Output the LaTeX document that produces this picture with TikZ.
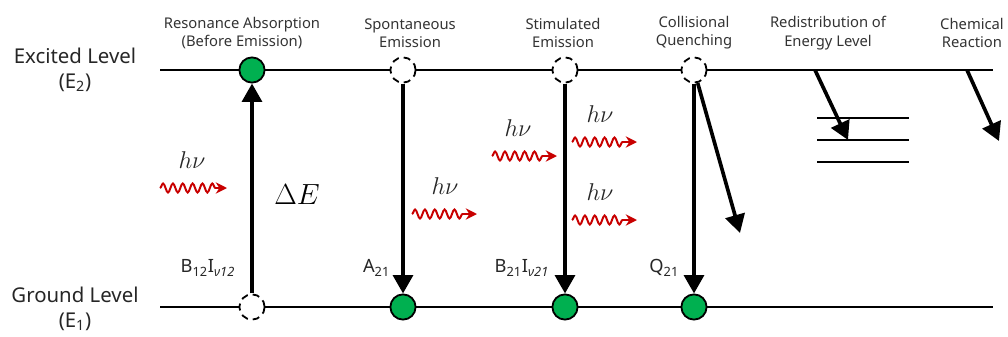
\documentclass[tikz,border=0pt]{standalone}
\usepackage{fontspec}
\setmainfont{Noto Sans}
\usepackage{tikz}
\usetikzlibrary{arrows.meta, positioning, decorations.pathmorphing}
\definecolor{dotgreen}{RGB}{0,176,80}
\definecolor{photonred}{RGB}{200,0,0}

\begin{document}
\begin{tikzpicture}[
  x=0.025cm, y=-0.025cm,
  level/.style={line width=1.5pt},
  lvllabel/.style={align=center, font=\fontsize{14.5}{17.5}\selectfont, text=black!85},
  title/.style={align=center, font=\fontsize{10.5}{13}\selectfont, text=black!80},
  full/.style={circle, draw, line width=1.3pt, fill=dotgreen, minimum size=0.63cm, inner sep=0pt},
  empty/.style={circle, draw, dash pattern=on 5pt off 3.5pt, line width=1.3pt, fill=white, minimum size=0.63cm, inner sep=0pt},
  trans/.style={-{Triangle[width=14pt,length=13pt]}, line width=2.6pt},
  photon/.style={photonred, line width=1.4pt, -{Stealth[length=8pt,width=8pt]},
    decorate, decoration={snake, amplitude=3.2pt, segment length=7pt, post length=7pt}},
  hnu/.style={font=\fontsize{17}{19}\selectfont, text=black!85},
  coef/.style={font=\fontsize{13}{15}\selectfont, text=black!85}
]
\useasboundingbox (0,0) rectangle (1008,336);

% energy levels
\coordinate (upL) at (160,70);
\coordinate (upR) at (993,70);
\coordinate (loL) at (160,307);
\coordinate (loR) at (993,307);
\draw[level] (upL) -- (upR);
\draw[level] (loL) -- (loR);

\node[lvllabel] (excited) at (75,70) {Excited Level\\(E\textsubscript{2})};
\node[lvllabel] (ground) at (75,309) {Ground Level\\(E\textsubscript{1})};

% process titles
\node[title] (tabs) at (242,33) {Resonance Absorption\\(Before Emission)};
\node[title] (tspon) at (410,33) {Spontaneous\\Emission};
\node[title] (tstim) at (563,33) {Stimulated\\Emission};
\node[title] (tquen) at (694,33) {Collisional\\Quenching};
\node[title] (tredi) at (828,33) {Redistribution of\\Energy Level};
\node[title] (tchem) at (972,33) {Chemical\\Reaction};

% states
\node[full] (e1) at (252,70) {};
\node[empty] (g1) at (252,307) {};
\node[empty] (e2) at (403,70) {};
\node[full] (g2) at (403,307) {};
\node[empty] (e3) at (565,70) {};
\node[full] (g3) at (565,307) {};
\node[empty] (e4) at (694,70) {};
\node[full] (g4) at (694,307) {};

% transitions
\draw[trans] (g1) -- (e1);
\draw[trans] (e2) -- (g2);
\draw[trans] (e3) -- (g3);
\draw[trans] (e4) -- (g4);
\coordinate (qend) at (740,233);
\draw[trans] (e4) -- (qend);

% redistribution
\coordinate (r1L) at (817,118);
\coordinate (r1R) at (909,118);
\coordinate (r2L) at (817,140);
\coordinate (r2R) at (909,140);
\coordinate (r3L) at (817,162);
\coordinate (r3R) at (909,162);
\draw[level] (r1L) -- (r1R);
\draw[level] (r2L) -- (r2R);
\draw[level] (r3L) -- (r3R);
\coordinate (rtop) at (815,70);
\coordinate (rend) at (848,140);
\draw[trans] (rtop) -- (rend);

% chemical reaction
\coordinate (ctop) at (967,70);
\coordinate (cend) at (999,141);
\draw[trans] (ctop) -- (cend);

% photons
\coordinate (p1a) at (160,188);  \coordinate (p1b) at (227,188);
\coordinate (p2a) at (412,214);  \coordinate (p2b) at (477,214);
\coordinate (p3a) at (492,156);  \coordinate (p3b) at (557,156);
\coordinate (p4a) at (572,142);  \coordinate (p4b) at (637,142);
\coordinate (p5a) at (572,220);  \coordinate (p5b) at (637,220);
\draw[photon] (p1a) -- (p1b);
\draw[photon] (p2a) -- (p2b);
\draw[photon] (p3a) -- (p3b);
\draw[photon] (p4a) -- (p4b);
\draw[photon] (p5a) -- (p5b);
\node[hnu] (h1) at (192,160) {$h\nu$};
\node[hnu] (h2) at (445,186) {$h\nu$};
\node[hnu] (h3) at (518,128) {$h\nu$};
\node[hnu] (h4) at (600,114) {$h\nu$};
\node[hnu] (h5) at (600,192) {$h\nu$};

% labels
\node[font=\fontsize{22}{24}\selectfont] (dE) at (297,195) {$\Delta E$};
\node[coef, anchor=east] (b12) at (240,268) {B\textsubscript{12}I\textsubscript{\textit{ν12}}};
\node[coef, anchor=east] (a21) at (395,268) {A\textsubscript{21}};
\node[coef, anchor=east] (b21) at (554,268) {B\textsubscript{21}I\textsubscript{\textit{ν21}}};
\node[coef, anchor=east] (q21) at (684,268) {Q\textsubscript{21}};
\end{tikzpicture}
\end{document}
